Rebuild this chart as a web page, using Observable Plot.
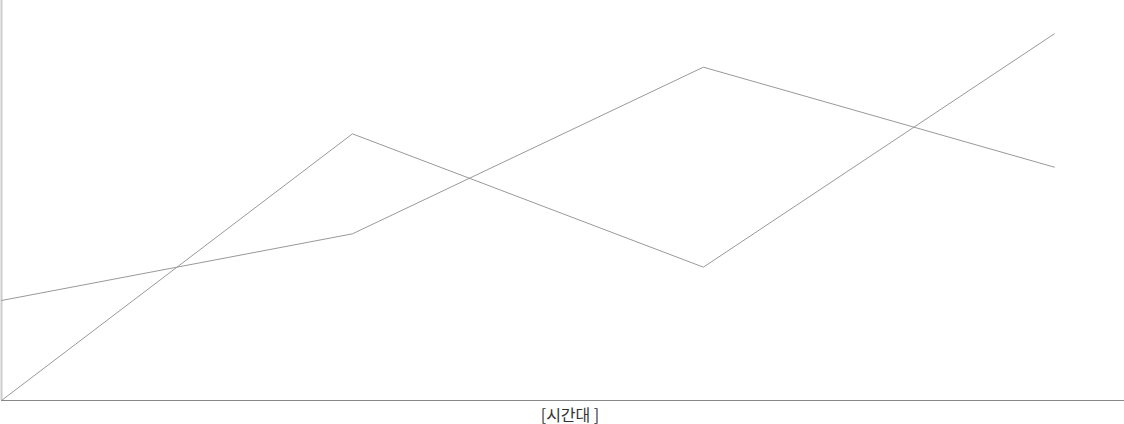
<!DOCTYPE html>
<html>
<head>
<meta charset="utf-8">
<script src="https://cdn.jsdelivr.net/npm/d3@7"></script>
<script src="https://cdn.jsdelivr.net/npm/@observablehq/plot@0.6"></script>
<style>
  body { margin: 0; background: #fff; }
  #label { width: 1108px; padding-left: 16px; padding-top: 3px; text-align: center; font-family: "Noto Sans CJK KR", "Noto Sans", sans-serif; font-size: 16px; line-height: 20px; color: #333; }
</style>
</head>
<body>
<div id="chart"></div>
<div id="label"></div>
<script>
const categories = [0, 1, 2, 3];
const seriesA = [0, 8, 4, 11];
const seriesB = [3, 5, 10, 7];
const xLabel = "[시간대 ]";

const data = [
  ...categories.map((c, i) => ({x: c, y: seriesA[i], s: "A"})),
  ...categories.map((c, i) => ({x: c, y: seriesB[i], s: "B"}))
];

const chart = Plot.plot({
  width: 1124,
  height: 401,
  marginTop: 0,
  marginBottom: 1,
  marginLeft: 1,
  marginRight: 0,
  x: {domain: [0, 3.2], axis: null},
  y: {domain: [0, 12], axis: null},
  style: {overflow: "visible", background: "#fff"},
  marks: [
    Plot.ruleX([0], {stroke: "#ccc", strokeWidth: 2}),
    Plot.line(data, {x: "x", y: "y", z: "s", stroke: "#999", strokeWidth: 1}),
    Plot.ruleY([0], {stroke: "#888", strokeWidth: 1})
  ]
});
document.getElementById("chart").appendChild(chart);
document.getElementById("label").textContent = xLabel;
</script>
</body>
</html>
